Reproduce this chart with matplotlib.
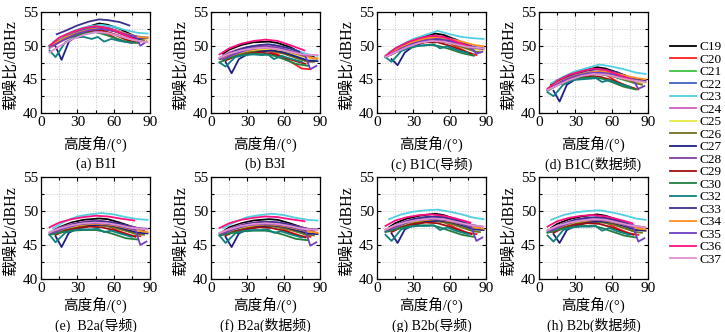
import matplotlib
matplotlib.use("Agg")
import matplotlib.pyplot as plt
from matplotlib.ticker import MultipleLocator

plt.rcParams["font.family"] = ["Liberation Serif", "Noto Sans CJK SC"]

sats = ["C19", "C20", "C21", "C22", "C23", "C24", "C25", "C26", "C27",
        "C28", "C29", "C30", "C32", "C33", "C34", "C35", "C36", "C37"]
colors = ["#000000", "#ff2020", "#40c040", "#4060c0", "#50d0e0", "#d060c0",
          "#e8e840", "#707020", "#202080", "#8040a0", "#a01010", "#208040",
          "#108080", "#3a3090", "#ff9020", "#7040c0", "#ff1080", "#e090d0"]

# elevation (deg) sampled along each pass, same for all signals
elev = [
    [10, 15, 25, 35, 48, 55, 65, 75, 85],
    [8, 15, 25, 35, 45, 55, 65, 75, 82],
    [12, 20, 30, 40, 50, 60, 70, 80],
    [7, 15, 25, 35, 45, 55, 65, 75, 87],
    [10, 20, 30, 40, 50, 60, 70, 80, 88],
    [7, 15, 25, 35, 45, 55, 65, 75, 85],
    [12, 20, 30, 40, 50, 60, 70, 80, 88],
    [10, 20, 30, 40, 50, 60, 70, 80, 85],
    [12, 17, 23, 30, 40, 50, 60, 70, 80, 88],
    [10, 20, 30, 40, 50, 60, 70, 80, 87],
    [12, 20, 30, 40, 50, 60, 70, 78],
    [7, 15, 25, 35, 45, 52, 60, 70, 80],
    [7, 12, 20, 28, 35, 42, 47, 52, 58, 65, 75],
    [13, 20, 30, 40, 48, 55, 65, 73],
    [10, 20, 30, 40, 50, 60, 70, 80, 88],
    [10, 20, 30, 40, 50, 60, 70, 78, 82, 87],
    [7, 15, 25, 35, 45, 55, 65, 77],
    [7, 15, 25, 35, 45, 55, 65, 75, 88],
]

cnr_b1i = [
    [50.3, 51.0, 51.9, 52.6, 53.3, 53.1, 52.5, 51.6, 50.9],
    [50.0, 50.8, 51.6, 52.1, 52.3, 51.8, 50.8, 50.4, 50.6],
    [50.6, 51.4, 52.1, 52.6, 52.8, 52.3, 51.6, 50.9],
    [49.8, 50.8, 51.7, 52.4, 52.8, 52.7, 52.1, 51.5, 51.2],
    [50.5, 51.6, 52.4, 52.9, 53.1, 52.8, 52.3, 51.9, 51.8],
    [49.6, 50.5, 51.3, 51.8, 52.1, 52.0, 51.5, 50.9, 50.6],
    [50.2, 51.0, 51.8, 52.3, 52.5, 52.2, 51.6, 51.0, 50.8],
    [50.3, 51.2, 51.9, 52.4, 52.6, 52.2, 51.5, 50.9, 50.8],
    [49.9, 47.9, 50.6, 51.5, 52.2, 52.5, 52.2, 51.6, 51.0, 51.2],
    [50.1, 51.2, 51.9, 52.4, 52.6, 52.3, 51.8, 51.2, 51.1],
    [50.2, 51.1, 51.8, 52.2, 52.3, 51.7, 50.9, 50.5],
    [50.0, 50.7, 51.3, 51.8, 52.0, 51.7, 51.2, 50.6, 50.4],
    [49.3, 48.3, 50.5, 51.2, 51.3, 51.0, 51.3, 50.6, 51.0, 50.7, 50.4],
    [51.7, 52.2, 53.0, 53.6, 53.9, 53.8, 53.5, 53.0],
    [50.2, 51.2, 51.9, 52.4, 52.6, 52.3, 51.8, 51.3, 51.2],
    [50.0, 51.0, 51.8, 52.3, 52.5, 52.2, 51.7, 51.4, 50.0, 50.6],
    [50.0, 51.2, 52.0, 52.6, 52.9, 52.6, 51.9, 51.0],
    [49.0, 49.9, 50.9, 51.6, 52.0, 51.9, 51.4, 50.9, 50.5],
]

cnr_b3i = [
    [48.8, 49.4, 50.1, 50.5, 50.6, 50.4, 49.8, 48.9, 48.3],
    [48.0, 48.5, 49.1, 49.4, 49.3, 48.7, 47.7, 46.6, 46.5],
    [48.2, 48.8, 49.3, 49.5, 49.4, 48.9, 48.2, 47.7],
    [48.0, 48.8, 49.4, 49.8, 49.9, 49.7, 49.2, 48.6, 48.0],
    [48.4, 49.3, 49.8, 50.0, 50.0, 49.8, 49.3, 48.7, 48.5],
    [48.2, 49.0, 49.6, 49.9, 50.0, 49.8, 49.2, 48.5, 48.0],
    [48.0, 48.6, 49.1, 49.4, 49.4, 49.1, 48.6, 48.2, 48.0],
    [47.8, 48.5, 49.0, 49.2, 49.2, 48.8, 48.2, 47.6, 47.6],
    [47.6, 45.9, 48.0, 48.7, 49.1, 49.3, 49.0, 48.4, 47.8, 47.7],
    [48.3, 49.1, 49.6, 49.8, 49.8, 49.5, 49.0, 48.4, 48.1],
    [47.8, 48.4, 48.8, 49.0, 48.8, 48.3, 47.7, 47.3],
    [47.5, 48.2, 48.6, 48.8, 48.7, 48.5, 48.0, 47.3, 47.0],
    [47.5, 46.9, 48.3, 48.6, 48.7, 48.6, 48.7, 48.0, 48.5, 48.1, 47.6],
    [48.7, 49.2, 49.8, 50.1, 50.2, 50.0, 49.6, 49.1],
    [48.1, 48.8, 49.3, 49.6, 49.6, 49.3, 48.8, 48.3, 48.1],
    [48.0, 48.8, 49.4, 49.7, 49.7, 49.4, 48.9, 48.4, 46.5, 47.0],
    [48.7, 49.6, 50.3, 50.7, 50.9, 50.7, 50.1, 49.3],
    [48.2, 48.8, 49.3, 49.6, 49.7, 49.5, 49.1, 48.7, 48.6],
]

cnr_b1c_p = [
    [48.9, 49.4, 50.4, 51.1, 51.8, 51.6, 50.9, 50.1, 49.5],
    [48.4, 49.1, 49.9, 50.6, 51.0, 50.9, 49.9, 49.0, 48.6],
    [48.8, 49.6, 50.3, 50.7, 50.8, 50.5, 49.9, 49.4],
    [48.3, 49.2, 50.1, 50.7, 51.1, 51.0, 50.5, 50.0, 49.6],
    [49.0, 50.1, 51.0, 51.6, 52.2, 51.7, 51.3, 51.1, 51.0],
    [48.3, 49.1, 49.9, 50.5, 50.9, 50.8, 50.3, 49.8, 49.4],
    [48.7, 49.5, 50.2, 50.6, 50.7, 50.5, 50.0, 49.6, 49.3],
    [48.6, 49.5, 50.2, 50.6, 50.7, 50.4, 49.8, 49.2, 49.0],
    [48.0, 47.1, 49.0, 49.9, 50.6, 51.0, 50.8, 50.3, 49.7, 49.6],
    [48.6, 49.7, 50.4, 50.9, 51.1, 50.9, 50.3, 49.7, 49.5],
    [48.7, 49.5, 50.2, 50.5, 50.5, 50.0, 49.3, 48.8],
    [48.3, 49.0, 49.6, 50.0, 50.1, 49.9, 49.5, 48.9, 48.5],
    [48.3, 47.6, 49.2, 49.8, 50.0, 50.1, 50.2, 49.6, 49.9, 49.4, 48.9],
    [49.0, 49.8, 50.7, 51.2, 51.4, 51.3, 50.9, 50.3],
    [48.8, 49.8, 50.6, 51.1, 51.3, 51.0, 50.6, 50.1, 49.9],
    [48.6, 49.6, 50.3, 50.7, 50.8, 50.6, 50.1, 49.6, 48.8, 49.1],
    [48.5, 49.6, 50.5, 51.1, 51.5, 51.3, 50.6, 49.8],
    [48.3, 49.0, 49.8, 50.4, 50.7, 50.6, 50.2, 49.8, 49.6],
]

cnr_b1c_d = [
    [44.2, 44.7, 45.6, 46.2, 46.8, 46.6, 46.0, 45.3, 44.9],
    [43.7, 44.3, 45.1, 45.7, 46.1, 45.7, 44.6, 43.8, 43.5],
    [44.1, 44.8, 45.4, 45.8, 45.8, 45.5, 44.9, 44.4],
    [43.4, 44.3, 45.2, 45.8, 46.1, 46.0, 45.5, 45.0, 44.6],
    [44.4, 45.4, 46.2, 46.7, 47.2, 46.9, 46.5, 46.0, 45.8],
    [43.4, 44.2, 45.0, 45.5, 45.8, 45.7, 45.3, 44.8, 44.5],
    [44.0, 44.7, 45.3, 45.7, 45.8, 45.6, 45.1, 44.7, 44.5],
    [43.9, 44.7, 45.3, 45.7, 45.8, 45.5, 45.0, 44.4, 44.2],
    [43.3, 41.7, 44.2, 45.0, 45.7, 46.0, 45.9, 45.4, 44.9, 44.8],
    [44.0, 44.9, 45.6, 46.0, 46.2, 46.0, 45.5, 44.9, 44.7],
    [43.9, 44.6, 45.2, 45.5, 45.4, 44.9, 44.2, 43.7],
    [43.3, 44.1, 44.8, 45.2, 45.3, 45.1, 44.6, 43.9, 43.5],
    [43.1, 42.5, 44.2, 44.9, 45.0, 45.1, 45.2, 44.6, 44.9, 44.4, 43.9],
    [44.3, 45.0, 45.8, 46.3, 46.5, 46.4, 46.0, 45.4],
    [44.0, 44.9, 45.6, 46.0, 46.2, 46.0, 45.6, 45.2, 45.0],
    [43.8, 44.8, 45.5, 45.9, 46.0, 45.8, 45.3, 44.8, 43.6, 44.0],
    [43.6, 44.8, 45.7, 46.2, 46.6, 46.4, 45.7, 44.9],
    [43.4, 44.1, 44.9, 45.5, 45.8, 45.7, 45.3, 44.9, 44.6],
]

cnr_b2a_p = [
    [47.1, 47.6, 48.3, 48.7, 48.9, 48.8, 48.3, 47.7, 47.2],
    [46.6, 47.1, 47.7, 48.0, 48.1, 47.8, 47.0, 46.4, 46.3],
    [46.8, 47.3, 47.7, 47.9, 47.9, 47.6, 47.1, 46.5],
    [46.6, 47.3, 47.9, 48.2, 48.3, 48.2, 47.8, 47.3, 46.9],
    [47.5, 48.5, 49.2, 49.5, 49.7, 49.5, 49.1, 48.8, 48.7],
    [46.8, 47.5, 48.1, 48.4, 48.5, 48.4, 48.0, 47.6, 47.3],
    [46.8, 47.3, 47.7, 47.9, 48.0, 47.8, 47.4, 47.0, 46.8],
    [46.6, 47.2, 47.6, 47.9, 47.9, 47.6, 47.1, 46.6, 46.5],
    [46.3, 44.7, 46.8, 47.4, 47.8, 48.0, 47.8, 47.3, 46.8, 46.7],
    [47.0, 47.7, 48.2, 48.5, 48.5, 48.3, 47.9, 47.5, 47.4],
    [46.5, 47.1, 47.5, 47.7, 47.6, 47.2, 46.6, 46.2],
    [46.5, 46.8, 47.1, 47.2, 47.2, 47.0, 46.6, 46.0, 45.8],
    [46.5, 45.4, 46.8, 47.2, 47.3, 47.3, 47.4, 46.9, 47.1, 46.7, 46.2],
    [47.2, 47.7, 48.2, 48.4, 48.5, 48.4, 48.1, 47.7],
    [46.9, 47.5, 47.9, 48.1, 48.1, 47.9, 47.5, 47.1, 46.9],
    [46.8, 47.5, 48.0, 48.2, 48.2, 48.0, 47.6, 47.2, 45.0, 45.5],
    [47.6, 48.3, 48.8, 49.1, 49.3, 49.2, 48.9, 48.6],
    [46.9, 47.4, 47.9, 48.2, 48.3, 48.2, 47.9, 47.5, 47.3],
]

cnr_b2a_d = [
    [47.0, 47.6, 48.2, 48.6, 48.8, 48.7, 48.2, 47.6, 47.1],
    [46.5, 47.0, 47.6, 47.9, 48.0, 47.7, 46.9, 46.3, 46.2],
    [46.7, 47.2, 47.6, 47.8, 47.8, 47.5, 47.0, 46.4],
    [46.6, 47.2, 47.8, 48.1, 48.2, 48.1, 47.7, 47.2, 46.8],
    [47.5, 48.4, 49.1, 49.4, 49.6, 49.4, 49.0, 48.7, 48.6],
    [46.7, 47.4, 48.0, 48.3, 48.4, 48.3, 47.9, 47.5, 47.2],
    [46.7, 47.2, 47.6, 47.8, 47.9, 47.7, 47.3, 46.9, 46.7],
    [46.5, 47.1, 47.5, 47.8, 47.8, 47.5, 47.0, 46.5, 46.4],
    [46.2, 44.7, 46.7, 47.3, 47.7, 47.9, 47.7, 47.2, 46.7, 46.6],
    [46.9, 47.6, 48.1, 48.4, 48.4, 48.2, 47.8, 47.4, 47.3],
    [46.4, 47.0, 47.4, 47.6, 47.5, 47.1, 46.5, 46.1],
    [46.4, 46.7, 47.0, 47.1, 47.1, 46.9, 46.5, 45.9, 45.7],
    [46.4, 45.3, 46.7, 47.1, 47.2, 47.2, 47.3, 46.8, 47.0, 46.6, 46.1],
    [47.1, 47.6, 48.1, 48.3, 48.4, 48.3, 48.0, 47.6],
    [46.8, 47.4, 47.8, 48.0, 48.0, 47.8, 47.4, 47.0, 46.8],
    [46.7, 47.4, 47.9, 48.1, 48.1, 47.9, 47.5, 47.1, 44.9, 45.4],
    [47.5, 48.2, 48.7, 49.0, 49.2, 49.1, 48.8, 48.5],
    [46.8, 47.3, 47.8, 48.1, 48.2, 48.1, 47.8, 47.4, 47.2],
]

cnr_b2b_p = [
    [47.6, 48.2, 48.9, 49.3, 49.6, 49.4, 48.8, 48.1, 47.6],
    [47.0, 47.6, 48.3, 48.7, 48.8, 48.4, 47.5, 46.8, 46.6],
    [47.2, 47.8, 48.3, 48.5, 48.5, 48.2, 47.6, 47.0],
    [47.0, 47.7, 48.4, 48.8, 48.9, 48.8, 48.3, 47.7, 47.3],
    [48.8, 49.5, 49.9, 50.1, 50.2, 49.9, 49.5, 49.0, 48.8],
    [47.2, 47.9, 48.6, 48.9, 49.1, 49.0, 48.5, 48.0, 47.7],
    [47.2, 47.8, 48.2, 48.5, 48.6, 48.3, 47.9, 47.4, 47.2],
    [47.0, 47.7, 48.2, 48.5, 48.5, 48.2, 47.6, 47.0, 46.9],
    [46.7, 45.3, 47.3, 47.9, 48.4, 48.6, 48.4, 47.9, 47.3, 47.2],
    [47.4, 48.2, 48.8, 49.1, 49.1, 48.9, 48.4, 47.9, 47.7],
    [46.9, 47.6, 48.1, 48.3, 48.2, 47.7, 47.0, 46.6],
    [46.9, 47.3, 47.7, 47.9, 47.9, 47.6, 47.1, 46.5, 46.2],
    [46.5, 45.6, 47.3, 47.7, 47.8, 47.8, 47.9, 47.2, 47.6, 47.1, 46.6],
    [47.6, 48.2, 48.8, 49.1, 49.2, 49.1, 48.7, 48.2],
    [47.3, 48.0, 48.5, 48.7, 48.8, 48.5, 48.1, 47.6, 47.4],
    [47.2, 48.0, 48.6, 48.8, 48.8, 48.6, 48.1, 47.6, 45.6, 46.1],
    [47.8, 48.6, 49.1, 49.4, 49.5, 49.3, 48.9, 48.3],
    [47.3, 47.9, 48.4, 48.7, 48.9, 48.8, 48.4, 48.0, 47.7],
]

cnr_b2b_d = [
    [47.5, 48.1, 48.8, 49.2, 49.5, 49.3, 48.7, 48.0, 47.5],
    [46.9, 47.5, 48.2, 48.6, 48.7, 48.3, 47.4, 46.7, 46.5],
    [47.1, 47.7, 48.2, 48.4, 48.4, 48.1, 47.5, 46.9],
    [46.9, 47.6, 48.3, 48.7, 48.8, 48.7, 48.2, 47.6, 47.2],
    [48.7, 49.4, 49.8, 50.0, 50.1, 49.8, 49.4, 48.9, 48.7],
    [47.1, 47.8, 48.5, 48.8, 49.0, 48.9, 48.4, 47.9, 47.6],
    [47.1, 47.7, 48.1, 48.4, 48.5, 48.2, 47.8, 47.3, 47.1],
    [46.9, 47.6, 48.1, 48.4, 48.4, 48.1, 47.5, 46.9, 46.8],
    [46.6, 45.3, 47.2, 47.8, 48.3, 48.5, 48.3, 47.8, 47.2, 47.1],
    [47.3, 48.1, 48.7, 49.0, 49.0, 48.8, 48.3, 47.8, 47.6],
    [46.8, 47.5, 48.0, 48.2, 48.1, 47.6, 46.9, 46.5],
    [46.8, 47.2, 47.6, 47.8, 47.8, 47.5, 47.0, 46.4, 46.1],
    [46.4, 45.5, 47.2, 47.6, 47.7, 47.7, 47.8, 47.1, 47.5, 47.0, 46.5],
    [47.5, 48.1, 48.7, 49.0, 49.1, 49.0, 48.6, 48.1],
    [47.2, 47.9, 48.4, 48.6, 48.7, 48.4, 48.0, 47.5, 47.3],
    [47.1, 47.9, 48.5, 48.7, 48.7, 48.5, 48.0, 47.5, 45.5, 46.0],
    [47.7, 48.5, 49.0, 49.3, 49.4, 49.2, 48.8, 48.2],
    [47.2, 47.8, 48.3, 48.6, 48.8, 48.7, 48.3, 47.9, 47.6],
]

panels = [cnr_b1i, cnr_b3i, cnr_b1c_p, cnr_b1c_d,
          cnr_b2a_p, cnr_b2a_d, cnr_b2b_p, cnr_b2b_d]
captions = ["(a) B1I", "(b) B3I", "(c) B1C(导频)", "(d) B1C(数据频)",
            "(e)  B2a(导频)", "(f) B2a(数据频)", "(g) B2b(导频)", "(h) B2b(数据频)"]

W, H = 725, 332
fig = plt.figure(figsize=(W / 100, H / 100), dpi=100)

lefts = [41, 211, 377, 539]
rows = [(12, 113, 31, 51), (177, 279, 26, 46)]  # top, bottom, xlabel offset, caption offset
aw = 109

handles = []
for k, data in enumerate(panels):
    top, bot, xl_off, cap_off = rows[k // 4]
    left = lefts[k % 4]
    ax = fig.add_axes([left / W, 1 - bot / H, aw / W, (bot - top) / H])
    for i, vals in enumerate(data):
        ln, = ax.plot(elev[i], vals, color=colors[i], lw=1.3, label=sats[i])
        if k == 0:
            handles.append(ln)
    ax.set_xlim(0, 90)
    ax.set_ylim(40, 55)
    ax.xaxis.set_major_locator(MultipleLocator(30))
    ax.xaxis.set_minor_locator(MultipleLocator(15))
    ax.yaxis.set_major_locator(MultipleLocator(5))
    ax.yaxis.set_minor_locator(MultipleLocator(2.5))
    ax.grid(which="both", color="#c8c8c8", linestyle=":", linewidth=0.7)
    ax.set_axisbelow(True)
    ax.tick_params(which="both", direction="in", top=True, right=True,
                   labelsize=11, pad=2, width=0.8)
    ax.tick_params(which="major", length=3)
    ax.tick_params(which="minor", length=2)
    for s in ax.spines.values():
        s.set_linewidth(0.9)
    ax.set_ylabel("载噪比/dBHz", fontsize=11.5)
    ax.yaxis.set_label_coords(-0.2, 0.47)
    cx = (left + aw / 2) / W
    fig.text(cx, 1 - (bot + xl_off) / H, "高度角/(°)", fontsize=10.5,
             ha="center", va="center")
    fig.text(cx, 1 - (bot + cap_off) / H, captions[k], fontsize=10,
             ha="center", va="center")

fig.legend(handles, sats, loc="upper left",
           bbox_to_anchor=(670 / W, 1 - 41 / H), frameon=False,
           fontsize=9.5, handlelength=2.0, handletextpad=0.2,
           labelspacing=0.02, borderpad=0, borderaxespad=0)

fig.savefig("out.png", dpi=100)
